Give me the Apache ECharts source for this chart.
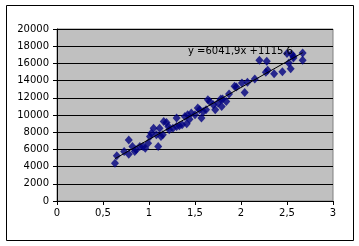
<!DOCTYPE html>
<html><head><meta charset="utf-8">
<script src="https://cdn.jsdelivr.net/npm/echarts@6/dist/echarts.min.js"></script>
<style>html,body{margin:0;padding:0;background:#fff}#c{width:359px;height:246px}</style>
</head><body><div id="c"></div>
<script>
const xValues = [0.63,0.65,0.73,0.78,0.78,0.82,0.845,0.86,0.90,0.935,0.96,0.99,1.01,1.025,1.05,1.10,1.08,1.115,1.13,1.15,1.16,1.19,1.21,1.22,1.26,1.30,1.30,1.33,1.36,1.39,1.41,1.42,1.44,1.46,1.50,1.53,1.55,1.57,1.59,1.62,1.64,1.66,1.70,1.72,1.75,1.78,1.79,1.80,1.84,1.87,1.93,1.95,2.01,2.04,2.07,2.15,2.20,2.28,2.27,2.29,2.36,2.45,2.52,2.54,2.57,2.57,2.67,2.67,2.50,2.55];
const yValues = [4400,5250,5750,7100,5440,6340,5750,5950,6340,6340,6140,6720,7500,7890,8470,6340,7700,8470,7500,7700,9250,9130,8670,8280,8470,9640,8670,8740,8860,9830,8980,10030,9520,10220,10030,10800,10610,9640,10420,10610,11780,11580,11190,10610,11390,11860,11000,11860,11580,12440,13330,13250,13720,12630,13800,14190,16360,16250,14960,15200,14810,15040,16050,15390,16830,16640,17220,16360,17150,17100];
const trendSlope = 6041.9;
const trendIntercept = 1115.6;
const trendLabel = 'y =6041,9x +1115,6';
const xTicks = [0,0.5,1,1.5,2,2.5,3];
const yTicks = [0,2000,4000,6000,8000,10000,12000,14000,16000,18000,20000];

const pts = xValues.map((x,i)=>[x,yValues[i]]);
const xMin = Math.min(...xValues), xMax = Math.max(...xValues);
const trend = [[xMin, trendSlope*xMin+trendIntercept],[xMax, trendSlope*xMax+trendIntercept]];
const font = 'DejaVu Sans';
const chart = echarts.init(document.getElementById('c'));
chart.setOption({
  animation:false,
  backgroundColor:'#fff',
  grid:{left:57,right:26,top:29,bottom:45,show:true,backgroundColor:'#c0c0c0',borderColor:'#808080',borderWidth:1},
  xAxis:{type:'value',min:xTicks[0],max:xTicks[xTicks.length-1],interval:0.5,
    axisLine:{onZero:false,lineStyle:{color:'#000',width:1}},
    axisTick:{show:true,length:4,lineStyle:{color:'#000'}},
    splitLine:{show:false},
    axisLabel:{color:'#000',fontFamily:font,fontSize:10,margin:7,formatter:v=>String(v).replace('.',',')}},
  yAxis:{type:'value',min:yTicks[0],max:yTicks[yTicks.length-1],interval:2000,
    axisLine:{show:true,lineStyle:{color:'#000',width:1}},
    axisTick:{show:true,length:4,lineStyle:{color:'#000'}},
    splitLine:{show:true,lineStyle:{color:'#000',width:1}},
    axisLabel:{color:'#000',fontFamily:font,fontSize:10,margin:8,formatter:v=>String(v)}},
  series:[
    {type:'scatter',data:pts,symbol:'diamond',symbolSize:[8,9],itemStyle:{color:'#000080'},z:2},
    {type:'line',data:trend,symbol:'none',lineStyle:{color:'#000',width:1},z:3}
  ],
  graphic:[
    {type:'rect',shape:{x:6.5,y:5.5,width:347,height:235},style:{fill:'none',stroke:'#000',lineWidth:1},z:0,silent:true},
    {type:'text',left:188,top:46,style:{text:trendLabel,fill:'#000',font:'10px "DejaVu Sans"'},z:100}
  ]
});
</script></body></html>
